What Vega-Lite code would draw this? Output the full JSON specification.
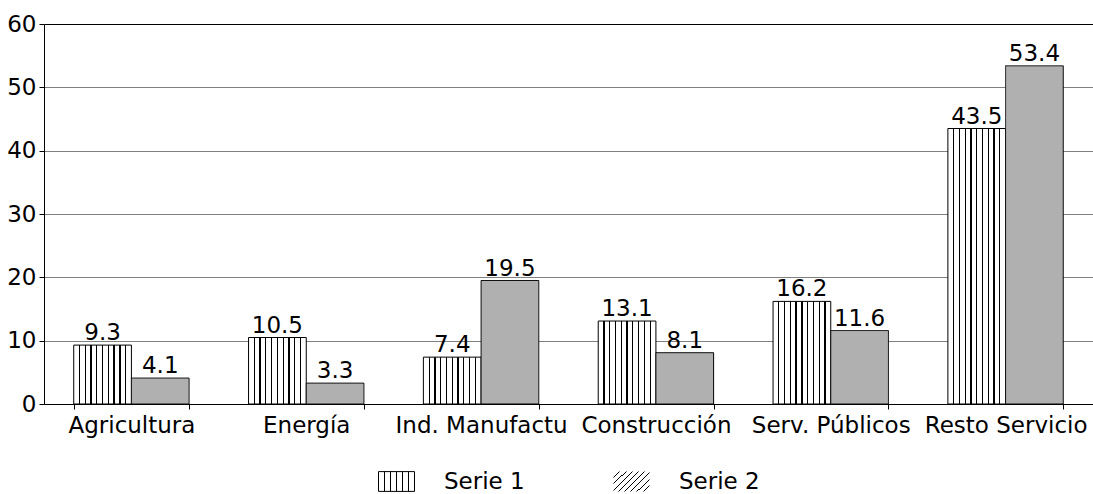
{
  "$schema": "https://vega.github.io/schema/vega-lite/v6.json",
  "width": 1049,
  "height": 380,
  "autosize": "none",
  "padding": {"left": 44, "top": 24, "right": 0, "bottom": 90},
  "background": "white",
  "config": {"font": "DejaVu Sans", "view": {"stroke": null}},
  "data": {
    "values": [
      {"sector": "Agricultura", "serie": "Serie 1", "valor": 9.3},
      {"sector": "Agricultura", "serie": "Serie 2", "valor": 4.1},
      {"sector": "Energía", "serie": "Serie 1", "valor": 10.5},
      {"sector": "Energía", "serie": "Serie 2", "valor": 3.3},
      {"sector": "Ind. Manufactu", "serie": "Serie 1", "valor": 7.4},
      {"sector": "Ind. Manufactu", "serie": "Serie 2", "valor": 19.5},
      {"sector": "Construcción", "serie": "Serie 1", "valor": 13.1},
      {"sector": "Construcción", "serie": "Serie 2", "valor": 8.1},
      {"sector": "Serv. Públicos", "serie": "Serie 1", "valor": 16.2},
      {"sector": "Serv. Públicos", "serie": "Serie 2", "valor": 11.6},
      {"sector": "Resto Servicio", "serie": "Serie 1", "valor": 43.5},
      {"sector": "Resto Servicio", "serie": "Serie 2", "valor": 53.4}
    ]
  },
  "encoding": {
    "x": {
      "field": "sector",
      "type": "nominal",
      "sort": null,
      "scale": {"paddingInner": 0.34, "paddingOuter": 0.17},
      "axis": {
        "title": null,
        "labelAngle": 0,
        "labelFontSize": 23,
        "labelColor": "black",
        "labelOverlap": false,
        "labelLimit": 0,
        "labelBound": false,
        "labelPadding": 5,
        "tickBand": "extent",
        "tickSize": 5,
        "tickColor": "black",
        "domainColor": "black",
        "grid": false
      }
    },
    "xOffset": {"field": "serie", "type": "nominal", "scale": {"paddingInner": 0, "paddingOuter": 0}},
    "y": {
      "field": "valor",
      "type": "quantitative",
      "scale": {"domain": [0, 60], "nice": false},
      "axis": {
        "title": null,
        "values": [0, 10, 20, 30, 40, 50, 60],
        "labelFontSize": 23,
        "labelColor": "black",
        "labelPadding": 3,
        "tickSize": 5,
        "tickColor": "black",
        "domainColor": "black",
        "grid": true,
        "gridColor": {"condition": {"test": "datum.value === 60", "value": "black"}, "value": "#808080"}
      }
    }
  },
  "layer": [
    {
      "transform": [{"filter": "datum.serie === 'Serie 1'"}],
      "mark": {"type": "bar", "strokeWidth": 1, "strokeOpacity": 1},
      "encoding": {
        "fill": {
          "condition": {
            "test": "datum.serie === 'Serie 1'",
            "value": {
              "gradient": "linear", "x1": 0, "y1": 0, "x2": 1, "y2": 0,
              "stops": [
                {"offset": 0, "color": "white"},
                {"offset": 0.089, "color": "white"}, {"offset": 0.089, "color": "black"}, {"offset": 0.111, "color": "black"}, {"offset": 0.111, "color": "white"},
                {"offset": 0.189, "color": "white"}, {"offset": 0.189, "color": "black"}, {"offset": 0.211, "color": "black"}, {"offset": 0.211, "color": "white"},
                {"offset": 0.289, "color": "white"}, {"offset": 0.289, "color": "black"}, {"offset": 0.311, "color": "black"}, {"offset": 0.311, "color": "white"},
                {"offset": 0.389, "color": "white"}, {"offset": 0.389, "color": "black"}, {"offset": 0.411, "color": "black"}, {"offset": 0.411, "color": "white"},
                {"offset": 0.489, "color": "white"}, {"offset": 0.489, "color": "black"}, {"offset": 0.511, "color": "black"}, {"offset": 0.511, "color": "white"},
                {"offset": 0.589, "color": "white"}, {"offset": 0.589, "color": "black"}, {"offset": 0.611, "color": "black"}, {"offset": 0.611, "color": "white"},
                {"offset": 0.689, "color": "white"}, {"offset": 0.689, "color": "black"}, {"offset": 0.711, "color": "black"}, {"offset": 0.711, "color": "white"},
                {"offset": 0.789, "color": "white"}, {"offset": 0.789, "color": "black"}, {"offset": 0.811, "color": "black"}, {"offset": 0.811, "color": "white"},
                {"offset": 0.889, "color": "white"}, {"offset": 0.889, "color": "black"}, {"offset": 0.911, "color": "black"}, {"offset": 0.911, "color": "white"},
                {"offset": 1, "color": "white"}
              ]
            }
          },
          "value": {
            "gradient": "linear", "x1": 0, "y1": 0, "x2": 1, "y2": 0,
            "stops": [
              {"offset": 0, "color": "white"},
              {"offset": 0.159, "color": "white"}, {"offset": 0.159, "color": "black"}, {"offset": 0.178, "color": "black"}, {"offset": 0.178, "color": "white"},
              {"offset": 0.326, "color": "white"}, {"offset": 0.326, "color": "black"}, {"offset": 0.345, "color": "black"}, {"offset": 0.345, "color": "white"},
              {"offset": 0.493, "color": "white"}, {"offset": 0.493, "color": "black"}, {"offset": 0.512, "color": "black"}, {"offset": 0.512, "color": "white"},
              {"offset": 0.659, "color": "white"}, {"offset": 0.659, "color": "black"}, {"offset": 0.678, "color": "black"}, {"offset": 0.678, "color": "white"},
              {"offset": 0.826, "color": "white"}, {"offset": 0.826, "color": "black"}, {"offset": 0.845, "color": "black"}, {"offset": 0.845, "color": "white"},
              {"offset": 1, "color": "white"}
            ]
          }
        },
        "stroke": {
          "field": "serie",
          "type": "nominal",
          "scale": {"range": ["black"]},
          "legend": {
            "title": null,
            "orient": "none",
            "legendX": 334,
            "legendY": 439,
            "padding": 0,
            "symbolType": "M-1,-0.55H1V0.55H-1Z",
            "symbolSize": 1296,
            "symbolStrokeWidth": 1,
            "labelFontSize": 23,
            "labelColor": "black",
            "labelOffset": 29
          }
        }
      }
    },
    {
      "transform": [{"filter": "datum.serie === 'Serie 2'"}],
      "mark": {"type": "bar", "stroke": "black", "strokeWidth": 1, "strokeOpacity": 1},
      "encoding": {
        "stroke": {"value": "black"},
        "fill": {
          "condition": {"test": "datum.serie === 'Serie 2'", "value": "#b0b0b0"},
          "value": {
            "gradient": "linear", "x1": 0, "y1": 0, "x2": 1.189, "y2": 0.661,
            "stops": [
              {"offset": 0, "color": "white"},
              {"offset": 0.102, "color": "white"}, {"offset": 0.102, "color": "black"}, {"offset": 0.120, "color": "black"}, {"offset": 0.120, "color": "white"},
              {"offset": 0.213, "color": "white"}, {"offset": 0.213, "color": "black"}, {"offset": 0.231, "color": "black"}, {"offset": 0.231, "color": "white"},
              {"offset": 0.324, "color": "white"}, {"offset": 0.324, "color": "black"}, {"offset": 0.342, "color": "black"}, {"offset": 0.342, "color": "white"},
              {"offset": 0.435, "color": "white"}, {"offset": 0.435, "color": "black"}, {"offset": 0.453, "color": "black"}, {"offset": 0.453, "color": "white"},
              {"offset": 0.547, "color": "white"}, {"offset": 0.547, "color": "black"}, {"offset": 0.565, "color": "black"}, {"offset": 0.565, "color": "white"},
              {"offset": 0.658, "color": "white"}, {"offset": 0.658, "color": "black"}, {"offset": 0.676, "color": "black"}, {"offset": 0.676, "color": "white"},
              {"offset": 0.769, "color": "white"}, {"offset": 0.769, "color": "black"}, {"offset": 0.787, "color": "black"}, {"offset": 0.787, "color": "white"},
              {"offset": 0.880, "color": "white"}, {"offset": 0.880, "color": "black"}, {"offset": 0.898, "color": "black"}, {"offset": 0.898, "color": "white"},
              {"offset": 1, "color": "white"}
            ]
          }
        },
        "strokeDash": {
          "field": "serie",
          "type": "nominal",
          "scale": {"range": [[1, 0]]},
          "legend": {
            "title": null,
            "orient": "none",
            "legendX": 569,
            "legendY": 439,
            "padding": 0,
            "symbolType": "M-1,-0.55H1V0.55H-1Z",
            "symbolSize": 1296,
            "symbolStrokeWidth": 1,
            "symbolStrokeColor": "black",
            "labelFontSize": 23,
            "labelColor": "black",
            "labelOffset": 29
          }
        }
      }
    },
    {
      "mark": {"type": "text", "dy": -5, "baseline": "alphabetic", "fontSize": 23, "color": "black"},
      "encoding": {"text": {"field": "valor", "type": "quantitative", "format": ".1f"}}
    }
  ]
}
